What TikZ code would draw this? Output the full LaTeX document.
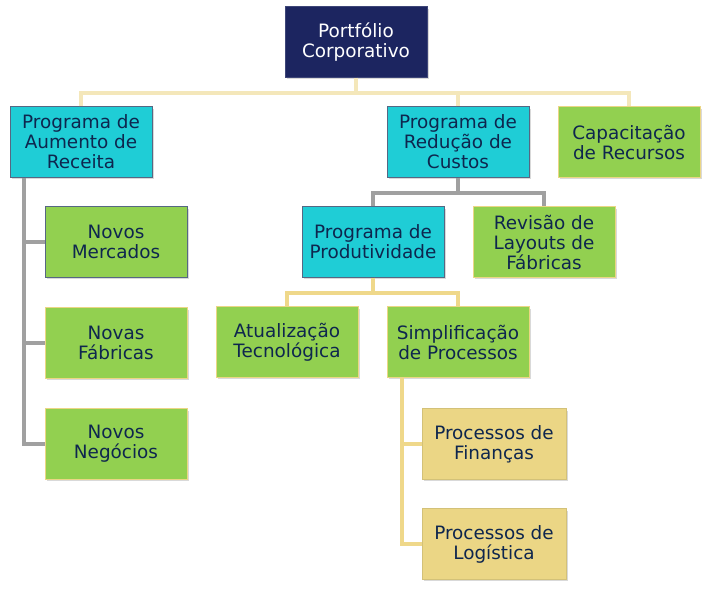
\documentclass[tikz,border=0pt]{standalone}
\usepackage{fontspec}
\setmainfont{DejaVu Sans}
\usetikzlibrary{shadows}
\definecolor{navy}{RGB}{28,37,96}
\definecolor{ciano}{RGB}{31,205,214}
\definecolor{verde}{RGB}{146,208,80}
\definecolor{areia}{RGB}{235,214,133}
\definecolor{texto}{RGB}{14,38,78}
\definecolor{linhacreme}{RGB}{244,231,186}
\definecolor{linhaouro}{RGB}{239,216,138}
\definecolor{linhacinza}{RGB}{160,160,160}

\tikzset{
  caixa/.style={rectangle, minimum width=106.5pt, minimum height=53pt, inner sep=2pt,
    align=center, font=\fontsize{13.8}{15}\selectfont, text=texto, line width=0.6pt,
    drop shadow={shadow xshift=1.5pt, shadow yshift=-1.5pt, opacity=0.3}},
  topo/.style={caixa, fill=navy, draw=navy!85!white, text=white},
  programa/.style={caixa, fill=ciano, draw=texto!70},
  projeto/.style={caixa, fill=verde, draw=areia},
  processo/.style={caixa, fill=areia, draw=areia!90!black, minimum width=108pt},
  ligacao/.style={line width=3pt},
}

\begin{document}
\begin{tikzpicture}[x=0.75pt, y=-0.75pt]
  \useasboundingbox (0,0) rectangle (714,592);
  % nivel 1 e 2
  \node[topo] (portfolio) at (356,42) {Portfólio\\Corporativo};
  \node[programa] (aumento) at (81,142) {Programa de\\Aumento de\\Receita};
  \node[programa] (reducao) at (458,142) {Programa de\\Redução de\\Custos};
  \node[projeto] (capacitacao) at (629,142) {Capacitação\\de Recursos};
  % ramo de custos
  \node[programa] (produtividade) at (373,242) {Programa de\\Produtividade};
  \node[projeto] (revisao) at (544,242) {Revisão de\\Layouts de\\Fábricas};
  \node[projeto] (atualizacao) at (287,342) {Atualização\\Tecnológica};
  \node[projeto] (simplificacao) at (458,342) {Simplificação\\de Processos};
  \node[processo] (financas) at (494,444) {Processos de\\Finanças};
  \node[processo] (logistica) at (494,544) {Processos de\\Logística};
  % ramo de receita
  \node[projeto, draw=texto!70] (mercados) at (116,242) {Novos\\Mercados};
  \node[projeto] (fabricas) at (116,343) {Novas\\Fábricas};
  \node[projeto] (negocios) at (116,444) {Novos\\Negócios};

  \coordinate (barra1) at (356,93);
  \coordinate (barra2) at (458,193);
  \coordinate (barra3) at (373,293);
  \coordinate (tronco1) at (24,0);
  \coordinate (tronco2) at (402,0);

  \draw[ligacao, linhacreme] (portfolio.south) -- (barra1);
  \draw[ligacao, linhacreme] (aumento.north) |- (barra1) -| (capacitacao.north);
  \draw[ligacao, linhacreme] (reducao.north) -- (reducao.north |- barra1);
  \draw[ligacao, linhacinza] (reducao.south) -- (barra2);
  \draw[ligacao, linhacinza] (produtividade.north) |- (barra2) -| (revisao.north);
  \draw[ligacao, linhaouro] (produtividade.south) -- (barra3);
  \draw[ligacao, linhaouro] (atualizacao.north) |- (barra3) -| (simplificacao.north);
  \draw[ligacao, linhaouro] (tronco2 |- simplificacao.south) |- (logistica.west);
  \draw[ligacao, linhaouro] (tronco2 |- financas.west) -- (financas.west);
  \draw[ligacao, linhacinza] (tronco1 |- aumento.south) |- (negocios.west);
  \foreach \n in {mercados,fabricas}
    \draw[ligacao, linhacinza] (tronco1 |- \n.west) -- (\n.west);
\end{tikzpicture}
\end{document}
